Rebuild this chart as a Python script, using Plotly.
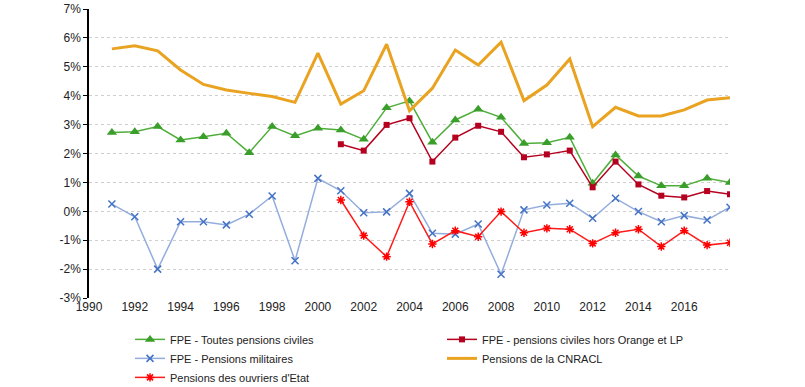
import plotly.graph_objects as go

years = list(range(1991, 2019))
years_2001 = list(range(2001, 2019))

fpe_civiles = [2.73, 2.75, 2.93, 2.47, 2.58, 2.70, 2.03, 2.93, 2.61, 2.87, 2.81, 2.49, 3.58, 3.82,
               2.39, 3.16, 3.53, 3.25, 2.35, 2.37, 2.56, 0.97, 1.95, 1.22, 0.88, 0.88, 1.14, 1.00]
fpe_hors_orange = [2.32, 2.10, 2.99, 3.22, 1.72, 2.55, 2.96, 2.75, 1.87, 1.97, 2.10, 0.83, 1.72,
                   0.93, 0.54, 0.48, 0.70, 0.59]
fpe_militaires = [0.25, -0.19, -2.00, -0.36, -0.36, -0.47, -0.10, 0.53, -1.71, 1.14, 0.71, -0.05,
                  -0.02, 0.62, -0.76, -0.79, -0.44, -2.18, 0.05, 0.22, 0.28, -0.24, 0.45, -0.01,
                  -0.36, -0.15, -0.30, 0.14]
cnracl = [5.62, 5.73, 5.55, 4.89, 4.39, 4.20, 4.08, 3.97, 3.77, 5.47, 3.71, 4.17, 5.78, 3.48,
          4.26, 5.58, 5.06, 5.85, 3.83, 4.37, 5.27, 2.93, 3.60, 3.30, 3.30, 3.51, 3.85, 3.93]
ouvriers = [0.39, -0.84, -1.57, 0.33, -1.13, -0.67, -0.88, -0.01, -0.74, -0.59, -0.62, -1.11,
            -0.74, -0.62, -1.22, -0.67, -1.17, -1.09]

x_ticks = list(range(1990, 2019, 2))
x_labels = [str(v) for v in range(1990, 2017, 2)]
y_ticks = list(range(-3, 8))

FONT = "Liberation Sans, Arial, sans-serif"

fig = go.Figure()
fig.add_trace(go.Scatter(
    x=years, y=fpe_civiles, name="FPE - Toutes pensions civiles", mode="lines+markers",
    line=dict(color="#4FAE3A", width=1.5),
    marker=dict(symbol="triangle-up", size=9, color="#3A9E2A")))
fig.add_trace(go.Scatter(
    x=years_2001, y=fpe_hors_orange, name="FPE - pensions civiles hors Orange et LP",
    mode="lines+markers", line=dict(color="#B5001F", width=1.5),
    marker=dict(symbol="square", size=6, color="#B5001F")))
fig.add_trace(go.Scatter(
    x=years, y=fpe_militaires, name="FPE - Pensions militaires", mode="lines+markers",
    line=dict(color="#93ADDD", width=1.5),
    marker=dict(symbol="x-thin-open", size=7, color="#4472C4", line=dict(color="#4472C4", width=1.5))))
fig.add_trace(go.Scatter(
    x=years, y=cnracl, name="Pensions de la CNRACL", mode="lines",
    line=dict(color="#E9A320", width=3)))
fig.add_trace(go.Scatter(
    x=years_2001, y=ouvriers, name="Pensions des ouvriers d'Etat", mode="lines+markers",
    line=dict(color="#FF1A1A", width=1.5),
    marker=dict(symbol="asterisk-open", size=7, color="#FF0000", line=dict(color="#FF0000", width=1.5))))

fig.update_layout(
    width=805, height=387,
    margin=dict(l=89, r=75, t=9, b=89, autoexpand=False),
    paper_bgcolor="white", plot_bgcolor="white",
    font=dict(family=FONT, size=12, color="#222"),
    showlegend=True,
    legend=dict(orientation="h", x=0.064, xanchor="left", y=-0.093, yanchor="top",
                font=dict(family=FONT, size=11, color="#222"),
                entrywidth=267, entrywidthmode="pixels", tracegroupgap=0,
                itemwidth=30, bgcolor="rgba(0,0,0,0)"),
    xaxis=dict(range=[1990, 2018], tickmode="array", tickvals=x_ticks[:-1], ticktext=x_labels,
               showgrid=False, zeroline=False, showline=False, ticks="",
               tickfont=dict(size=12, color="#222")),
    xaxis2=dict(range=[1990, 2018], overlaying="x", anchor="free", position=0.3, side="bottom",
                tickmode="array", tickvals=x_ticks, showticklabels=False,
                showline=True, linecolor="black", linewidth=1.5,
                ticks="inside", ticklen=5, tickcolor="black", tickwidth=1,
                showgrid=False, zeroline=False),
    yaxis=dict(range=[-3, 7], tickmode="array", tickvals=y_ticks,
               ticktext=[f"{v}%" for v in y_ticks],
               showgrid=True, gridcolor="#CFCFCF", griddash="dot", gridwidth=1,
               zeroline=False, showline=True, linecolor="black", linewidth=1.5,
               ticks="outside", ticklen=4, tickcolor="black",
               tickfont=dict(size=12, color="#222")),
)

fig.write_html("out.html", config={"displayModeBar": False},
               post_script="document.body.style.margin='0';")
